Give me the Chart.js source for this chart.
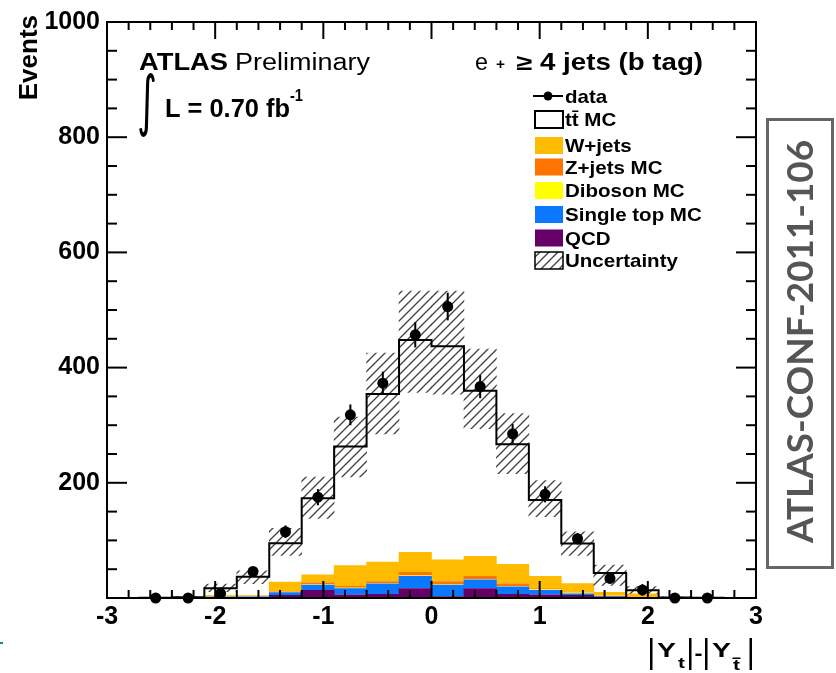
<!DOCTYPE html>
<html>
<head>
<meta charset="utf-8">
<script src="https://cdn.jsdelivr.net/npm/chart.js@4.4.1/dist/chart.umd.min.js"></script>
<style>
  html, body { margin: 0; padding: 0; background: #fff; }
  canvas { display: block; }
</style>
</head>
<body>
<canvas id="chart" width="836" height="673"></canvas>
<script>
// bins of |Y_t|-|Y_tbar|, width 0.3
const binEdges = [-3, -2.7, -2.4, -2.1, -1.8, -1.5, -1.2, -0.9, -0.6, -0.3, 0, 0.3, 0.6, 0.9, 1.2, 1.5, 1.8, 2.1, 2.4, 2.7, 3];
const binCenters = [-2.85, -2.55, -2.25, -1.95, -1.65, -1.35, -1.05, -0.75, -0.45, -0.15, 0.15, 0.45, 0.75, 1.05, 1.35, 1.65, 1.95, 2.25, 2.55, 2.85];

// stacked MC, bottom to top
const qcd       = [0, 0, 0, 1, 0.5, 5, 14, 6, 7, 17, 3, 17, 7, 6, 5, 2, 0.5, 0, 0, 0];
const singleTop = [0, 0, 0.3, 1, 2, 5, 9, 11, 18, 21, 20, 15, 13, 8, 3, 1.5, 0.5, 0, 0, 0];
const diboson   = [0, 0, 0, 0.3, 0.5, 1, 1, 1, 1, 1, 1, 1, 1, 1, 1, 0.3, 0.3, 0, 0, 0];
const zJets     = [0, 0, 0, 0.5, 0.3, 1, 3, 3, 3, 6, 5, 5, 4, 2, 0.5, 0.5, 0.3, 0, 0, 0];
const wJets     = [0, 0, 0.5, 2, 1.5, 16, 14, 36, 34, 35, 38, 35, 34, 21, 16, 6, 6, 0.5, 0, 0];
const ttbar     = [0, 0.3, 0.5, 12, 32, 67, 132, 206, 291, 368, 370, 287, 208, 132, 69, 33, 6, 0.5, 0.3, 0];

// uncertainty band (low, high)
const uncLow  = [0, 0, 0, 11, 25, 74, 138, 210, 285, 357, 354, 294, 216, 141, 74, 22, 8, 0, 0, 0];
const uncHigh = [0, 0, 2, 24, 47, 121, 210, 314, 425, 533, 533, 432, 320, 204, 115, 57, 20, 2, 0, 0];

// data
const dataVals = [null, 0, 0, 8, 46, 115, 175, 318, 373, 457, 506, 367, 285, 180, 103, 34, 14, 0, 0, null];
const dataErr  = [0, 0, 0, 10, 8, 11, 14, 18, 20, 22, 24, 20, 17, 14, 10, 7, 10, 0, 0, 0];

const yTicks = [0, 200, 400, 600, 800, 1000];
const yTickMarks = [0, 50, 100, 150, 200, 250, 300, 350, 400, 450, 500, 550, 600, 650, 700, 750, 800, 850, 900, 950, 1000];
const xTickMarks = [-3, -2.8, -2.6, -2.4, -2.2, -2, -1.8, -1.6, -1.4, -1.2, -1, -0.8, -0.6, -0.4, -0.2, 0,
    0.2, 0.4, 0.6, 0.8, 1, 1.2, 1.4, 1.6, 1.8, 2, 2.2, 2.4, 2.6, 2.8, 3];

const SANS = '"Liberation Sans", Arial, Helvetica, sans-serif';
const colors = {
    tt: '#ffffff',
    w: '#ffbb00',
    z: '#ff7300',
    dib: '#ffff00',
    st: '#0a78ff',
    qcd: '#660066'
};

const ctx = document.getElementById('chart').getContext('2d');

function hatchPattern() {
    const c = document.createElement('canvas');
    c.width = 9; c.height = 9;
    const g = c.getContext('2d');
    g.strokeStyle = '#404040';
    g.lineWidth = 1.3;
    g.beginPath();
    g.moveTo(-1, 10); g.lineTo(10, -1);
    g.moveTo(-1, 1); g.lineTo(1, -1);
    g.moveTo(8, 10); g.lineTo(10, 8);
    g.stroke();
    return ctx.createPattern(c, 'repeat');
}
const hatch = hatchPattern();

const totals = binCenters.map((c, i) => qcd[i] + singleTop[i] + diboson[i] + zJets[i] + wJets[i] + ttbar[i]);

function bars(arr) {
    return binCenters.map((c, i) => ({ x: c, y: arr[i] }));
}

function barSet(name, arr, color, order) {
    return {
        type: 'bar',
        label: name,
        data: bars(arr),
        backgroundColor: color,
        borderWidth: 0,
        stack: 'mc',
        grouped: false,
        order: order,
        barPercentage: 1.02,
        categoryPercentage: 1
    };
}

const yLens = yTickMarks.map(v => v % 200 === 0 ? 20 : 10);
const xLens = xTickMarks.map((v, k) => k % 5 === 0 ? 17 : 8);

function drawText(c, s, x, y, font, width) {
    c.save();
    c.font = font;
    const w = c.measureText(s).width;
    const sx = width ? width / w : 1;
    c.translate(x, y);
    c.scale(sx, 1);
    c.textAlign = 'left';
    c.textBaseline = 'alphabetic';
    c.fillText(s, 0, 0);
    c.restore();
}

function fitBox(c, s, font, x0, y0, x1, y1) {
    c.save();
    c.font = font;
    const m = c.measureText(s);
    const w = m.actualBoundingBoxLeft + m.actualBoundingBoxRight;
    const h = m.actualBoundingBoxAscent + m.actualBoundingBoxDescent;
    c.translate(x0, y0);
    c.scale((x1 - x0) / w, (y1 - y0) / h);
    c.textAlign = 'left';
    c.textBaseline = 'alphabetic';
    c.fillText(s, m.actualBoundingBoxLeft, m.actualBoundingBoxAscent);
    c.restore();
}

const decor = {
    id: 'decor',
    afterDraw(chart) {
        const c = chart.ctx;
        const xs = chart.scales.x, ys = chart.scales.y;
        const L = xs.left, R = xs.right, T = ys.top, B = ys.bottom;
        c.save();
        c.strokeStyle = '#000';
        c.fillStyle = '#000';

        // error bars
        c.lineWidth = 2;
        dataVals.forEach((v, i) => {
            if (v === null || !dataErr[i]) return;
            const px = xs.getPixelForValue(binCenters[i]);
            c.beginPath();
            c.moveTo(px, ys.getPixelForValue(Math.max(0, v - dataErr[i])));
            c.lineTo(px, ys.getPixelForValue(v + dataErr[i]));
            c.stroke();
        });

        // frame
        c.lineWidth = 2;
        c.strokeRect(L, T, R - L, B - T);

        // inward ticks, drawn the same way as the error bars
        c.lineWidth = 2;
        yTickMarks.forEach((v, k) => {
            const py = ys.getPixelForValue(v);
            c.beginPath();
            c.moveTo(L, py);
            c.lineTo(L + yLens[k], py);
            c.stroke();
            c.beginPath();
            c.moveTo(R, py);
            c.lineTo(R - yLens[k], py);
            c.stroke();
        });
        xTickMarks.forEach((v, k) => {
            const px = xs.getPixelForValue(v);
            c.beginPath();
            c.moveTo(px, B);
            c.lineTo(px, B - xLens[k]);
            c.stroke();
            c.beginPath();
            c.moveTo(px, T);
            c.lineTo(px, T + xLens[k]);
            c.stroke();
        });

        // y title
        c.save();
        c.translate(37, 15);
        c.rotate(-Math.PI / 2);
        c.font = 'bold 26px ' + SANS;
        c.textAlign = 'right';
        c.fillText('Events', 0, 0);
        c.restore();

        // ATLAS Preliminary
        drawText(c, 'ATLAS', 139, 70, 'bold 23.5px ' + SANS, 89);
        drawText(c, 'Preliminary', 235, 70, '23.5px ' + SANS, 135);
        fitBox(c, '\u222B', '60px "DejaVu Sans"', 139, 72, 155, 137);
        drawText(c, 'L = 0.70 fb', 165, 117, 'bold 26px ' + SANS, 125);
        drawText(c, '-1', 290, 101, 'bold 16px ' + SANS, 13);

        // channel
        drawText(c, 'e', 475, 70, '23px ' + SANS, 13);
        drawText(c, '+', 496, 69, 'bold 15px ' + SANS, 9);
        drawText(c, '\u2265', 516, 70, 'bold 22px ' + SANS, 16);
        drawText(c, '4 jets (b tag)', 540, 70, 'bold 24px ' + SANS, 163);

        // legend
        const lf = 'bold 19px ' + SANS;
        const lsx = 1.08;
        const bx = 535, bw = 28, bh = 17, tx = 565;
        c.lineWidth = 2;
        c.beginPath(); c.moveTo(533, 96); c.lineTo(563, 96); c.stroke();
        c.beginPath(); c.arc(548, 96, 4.5, 0, Math.PI * 2); c.fill();
        c.font = lf;
        drawText(c, 'data', tx, 102.5, lf, c.measureText('data').width * lsx);

        const rows = [
            { y: 119.5, fill: colors.tt, stroke: true, text: 'tt\u0304 MC' },
            { y: 145.5, fill: colors.w, text: 'W+jets' },
            { y: 167, fill: colors.z, text: 'Z+jets MC' },
            { y: 190.5, fill: colors.dib, text: 'Diboson MC' },
            { y: 214.5, fill: colors.st, text: 'Single top MC' },
            { y: 238, fill: colors.qcd, text: 'QCD' },
            { y: 260.5, fill: hatch, stroke: true, text: 'Uncertainty' }
        ];
        rows.forEach(r => {
            c.fillStyle = r.fill;
            c.fillRect(bx, r.y - bh / 2, bw, bh);
            if (r.stroke) {
                c.lineWidth = r.fill === hatch ? 1.5 : 2;
                c.strokeRect(bx, r.y - bh / 2, bw, bh);
            }
            c.fillStyle = '#000';
            c.font = lf;
            drawText(c, r.text, tx, r.y + 6.5, lf, c.measureText(r.text).width * lsx);
        });

        // x title |Y_t|-|Y_tbar|
        c.fillStyle = '#000';
        [650, 689, 705, 749.5].forEach(px => c.fillRect(px, 638, 2.5, 32));
        drawText(c, 'Y', 657, 657, 'bold 21px ' + SANS, 19);
        drawText(c, 't', 678, 668, 'bold 14px ' + SANS, 7);
        drawText(c, '-', 694.5, 660, 'bold 21px ' + SANS, 8);
        drawText(c, 'Y', 712, 657, 'bold 21px ' + SANS, 19);
        drawText(c, 't', 733, 670, 'bold 14px ' + SANS, 7);
        c.fillRect(732.5, 657.5, 8, 1.5);

        // conference note box
        c.strokeStyle = '#666';
        c.lineWidth = 3;
        c.strokeRect(767.5, 119.5, 65, 448);
        c.save();
        c.translate(813, 543);
        c.rotate(-Math.PI / 2);
        c.font = 'bold 37px Lato, "Noto Sans", sans-serif';
        const s = 'ATLAS-CONF-2011-106';
        const w = c.measureText(s).width;
        c.scale(403 / w, 1);
        c.fillStyle = '#555';
        c.fillText(s, 0, 0);
        c.restore();

        // small mark at the left edge
        c.fillStyle = '#1f7f8f';
        c.fillRect(0, 642, 3, 2);
        c.restore();
    }
};

new Chart(ctx, {
    data: {
        datasets: [
            {
                type: 'line',
                label: 'data',
                data: bars(dataVals),
                showLine: false,
                pointRadius: 5.5,
                pointBackgroundColor: '#000',
                pointBorderWidth: 0,
                stack: 'data',
                order: 0,
                clip: false
            },
            {
                type: 'line',
                label: 'outline',
                data: binEdges.map((e, i) => ({ x: e, y: totals[Math.min(i, totals.length - 1)] })),
                stepped: 'before',
                borderColor: '#000',
                borderWidth: 2,
                pointRadius: 0,
                fill: false,
                stack: 'outline',
                order: 1
            },
            {
                type: 'bar',
                label: 'Uncertainty',
                data: binCenters.map((c, i) => ({ x: c, y: [uncLow[i], uncHigh[i]] })),
                backgroundColor: hatch,
                borderWidth: 0,
                stack: 'unc',
                grouped: false,
                order: 2,
                barPercentage: 1,
                categoryPercentage: 1
            },
            barSet('QCD', qcd, colors.qcd, 3),
            barSet('Single top MC', singleTop, colors.st, 4),
            barSet('Diboson MC', diboson, colors.dib, 5),
            barSet('Z+jets MC', zJets, colors.z, 6),
            barSet('W+jets', wJets, colors.w, 7),
            barSet('tt MC', ttbar, colors.tt, 8)
        ]
    },
    options: {
        responsive: false,
        animation: false,
        layout: { padding: { top: 21, right: 80, bottom: 0, left: 0 } },
        plugins: {
            legend: { display: false },
            tooltip: { enabled: false }
        },
        scales: {
            x: {
                type: 'linear',
                offset: false,
                min: -3,
                max: 3,
                grid: { display: false, drawTicks: false, offset: false },
                border: { display: false },
                ticks: {
                    stepSize: 1,
                    maxRotation: 0,
                    autoSkip: false,
                    padding: 4,
                    color: '#000',
                    font: { family: SANS, size: 25, weight: 'bold' }
                },
                afterFit(scale) { scale.height = 75; }
            },
            y: {
                type: 'linear',
                stacked: true,
                min: 0,
                max: 1000,
                grid: { display: false, drawTicks: false },
                border: { display: false },
                afterBuildTicks(scale) { scale.ticks = yTicks.map(v => ({ value: v })); },
                ticks: {
                    padding: 7,
                    color: '#000',
                    font: { family: SANS, size: 25, weight: 'bold' },
                    callback: v => v === 0 ? '' : String(v)
                },
                afterFit(scale) { scale.width = 107; }
            }
        }
    },
    plugins: [decor]
});
</script>
</body>
</html>
